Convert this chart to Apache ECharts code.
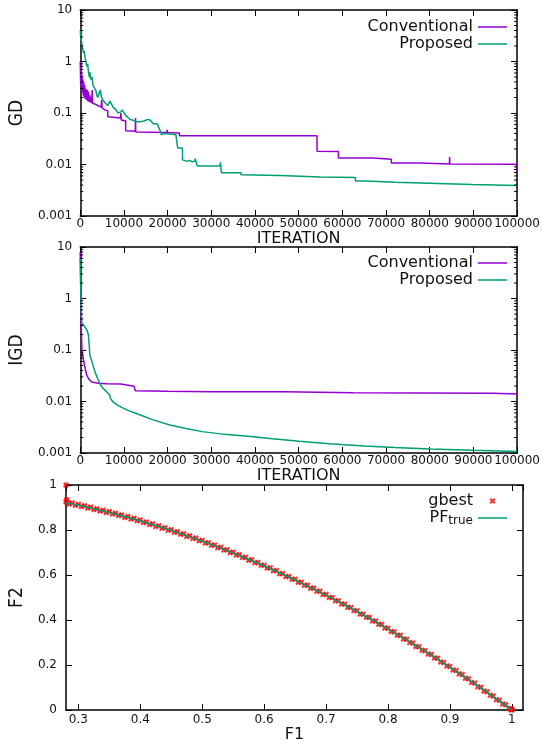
<!DOCTYPE html>
<html>
<head>
<meta charset="utf-8">
<script src="https://cdn.jsdelivr.net/npm/echarts@6/dist/echarts.min.js"></script>
<style>
html, body { margin: 0; padding: 0; background: #fff; }
#chart { width: 543px; height: 744px; }
</style>
</head>
<body>
<div id="chart"></div>
<script>
// values
const logTickLabels = ['0.001', '0.01', '0.1', '1', '10'];
const logMinorSteps = [2, 3, 4, 5, 6, 7, 8, 9];
const logDecades = [0.001, 0.01, 0.1, 1];

// GD vs iteration
const gdConventional = [
  [0, 1.0], [100, 0.35], [200, 0.8], [300, 0.3], [400, 0.55], [500, 0.25], [600, 0.45], [700, 0.22],
  [800, 0.4], [900, 0.2], [1000, 0.35], [1100, 0.19], [1300, 0.3], [1400, 0.18], [1600, 0.28],
  [1700, 0.17], [1900, 0.26], [2000, 0.165], [2200, 0.22], [2300, 0.16], [2500, 0.2], [2600, 0.155],
  [2750, 0.28], [2800, 0.155], [3300, 0.15], [4000, 0.14], [4800, 0.13], [4900, 0.18], [5000, 0.125],
  [5600, 0.115], [6300, 0.11], [6300, 0.085], [9200, 0.08], [9300, 0.1], [9400, 0.073], [10400, 0.07],
  [10400, 0.045], [12600, 0.044], [12650, 0.08], [12700, 0.043], [19800, 0.042], [19900, 0.047],
  [20000, 0.042], [22700, 0.041], [22700, 0.036], [46300, 0.036], [46400, 0.039], [46500, 0.036],
  [54200, 0.036], [54200, 0.018], [59100, 0.0178], [59100, 0.0134], [67000, 0.0134], [67000, 0.0127],
  [71200, 0.0127], [71200, 0.0107], [77700, 0.0107], [77700, 0.0102], [84500, 0.0102], [84550, 0.014],
  [84600, 0.0102], [99800, 0.0101], [100000, 0.0069]
];
const gdProposed = [
  [0, 4.0], [100, 3.0], [300, 2.4], [500, 1.9], [750, 1.45], [900, 1.6], [1100, 1.2], [1300, 1.0],
  [1500, 0.8], [1700, 0.9], [1900, 0.6], [2100, 0.5], [2200, 0.62], [2400, 0.45], [2700, 0.5],
  [2900, 0.35], [3100, 0.38], [3300, 0.3], [3600, 0.27], [3800, 0.22], [4000, 0.2], [4300, 0.24],
  [4600, 0.28], [4800, 0.21], [5200, 0.18], [5600, 0.16], [6000, 0.15], [6300, 0.14], [6800, 0.17],
  [7200, 0.18], [7500, 0.13], [8200, 0.115], [8600, 0.1], [9300, 0.105], [9600, 0.115], [10000, 0.11],
  [10400, 0.09], [10800, 0.085], [11400, 0.075], [11900, 0.073], [12800, 0.068], [13800, 0.068],
  [14600, 0.07], [15400, 0.075], [16000, 0.073], [16700, 0.062], [17600, 0.062], [17900, 0.059],
  [18300, 0.045], [18600, 0.038], [19500, 0.04], [20500, 0.039], [21900, 0.038], [22300, 0.037],
  [22300, 0.021], [23400, 0.021], [23400, 0.0123], [24500, 0.0115], [25000, 0.012], [25600, 0.0113],
  [26200, 0.0115], [26300, 0.013], [26600, 0.012], [26800, 0.0093], [32000, 0.0093], [32100, 0.011],
  [32300, 0.0069], [36800, 0.0069], [36800, 0.0063], [45700, 0.0061], [45700, 0.0058], [55000, 0.0057],
  [63000, 0.0056], [63000, 0.0048], [65400, 0.0048], [65400, 0.0045], [72100, 0.0045], [72100, 0.0042],
  [89700, 0.0041], [89700, 0.0039], [100000, 0.0039]
];

// IGD vs iteration
const igdConventional = [
  [0, 8], [60, 4], [120, 1.2], [200, 0.33], [380, 0.1], [740, 0.064], [1100, 0.045], [1500, 0.032],
  [2000, 0.027], [2600, 0.024], [4100, 0.0227], [6000, 0.022], [9300, 0.0218], [9300, 0.02],
  [12300, 0.0198], [12600, 0.0162], [20000, 0.0158], [30000, 0.0155], [46500, 0.0155], [46500, 0.0148],
  [62500, 0.0148], [62500, 0.0146], [94400, 0.0145], [94400, 0.0141], [100000, 0.014]
];
const igdProposed = [
  [0, 6], [100, 2], [200, 0.6], [380, 0.33], [800, 0.3], [1200, 0.27], [1500, 0.245], [1850, 0.2],
  [2000, 0.14], [2200, 0.08], [2800, 0.055], [3350, 0.038], [3900, 0.029], [4460, 0.0224], [5000, 0.019],
  [5600, 0.0168], [6200, 0.015], [6700, 0.0135], [6900, 0.0115], [7500, 0.0098], [8550, 0.0085],
  [9600, 0.0076], [10800, 0.0068], [13000, 0.0058], [16700, 0.0044], [20500, 0.0035], [24200, 0.003],
  [27900, 0.0026], [33000, 0.0023], [39000, 0.0021], [44000, 0.0019], [50200, 0.0017], [57000, 0.00152],
  [65100, 0.00137], [72000, 0.00128], [80000, 0.0012], [90000, 0.00113], [100000, 0.00107]
];

// F1-F2 front
const gbest = [
  [0.28, 1.0], [0.28, 0.926], [0.281, 0.935], [0.282, 0.925], [0.285, 0.916], [0.29, 0.920], [0.295, 0.910],
  [0.30, 0.914], [0.305, 0.904], [0.31, 0.908], [0.315, 0.898], [0.32, 0.902], [0.325, 0.891], [0.33, 0.895],
  [0.335, 0.885], [0.34, 0.888], [0.345, 0.878], [0.35, 0.882], [0.355, 0.871], [0.36, 0.874], [0.365, 0.864],
  [0.37, 0.867], [0.375, 0.856], [0.38, 0.860], [0.385, 0.849], [0.39, 0.852], [0.395, 0.841], [0.40, 0.844],
  [0.405, 0.833], [0.41, 0.836], [0.415, 0.825], [0.42, 0.828], [0.425, 0.816], [0.43, 0.819], [0.435, 0.808],
  [0.44, 0.810], [0.445, 0.799], [0.45, 0.801], [0.455, 0.790], [0.46, 0.792], [0.465, 0.781], [0.47, 0.783],
  [0.475, 0.771], [0.48, 0.774], [0.485, 0.762], [0.49, 0.764], [0.495, 0.752], [0.50, 0.754], [0.505, 0.742],
  [0.51, 0.744], [0.515, 0.732], [0.52, 0.734], [0.525, 0.721], [0.53, 0.723], [0.535, 0.711], [0.54, 0.712],
  [0.545, 0.700], [0.55, 0.701], [0.555, 0.689], [0.56, 0.690], [0.565, 0.678], [0.57, 0.679], [0.575, 0.666],
  [0.58, 0.668], [0.585, 0.655], [0.59, 0.656], [0.595, 0.643], [0.60, 0.644], [0.605, 0.631], [0.61, 0.632],
  [0.615, 0.619], [0.62, 0.620], [0.625, 0.606], [0.63, 0.607], [0.635, 0.594], [0.64, 0.594], [0.645, 0.581],
  [0.65, 0.581], [0.655, 0.568], [0.66, 0.568], [0.665, 0.555], [0.67, 0.555], [0.675, 0.541], [0.68, 0.542],
  [0.685, 0.528], [0.69, 0.528], [0.695, 0.514], [0.70, 0.514], [0.705, 0.500], [0.71, 0.500], [0.715, 0.486],
  [0.72, 0.486], [0.725, 0.471], [0.73, 0.471], [0.735, 0.457], [0.74, 0.456], [0.745, 0.442], [0.75, 0.441],
  [0.755, 0.427], [0.76, 0.426], [0.765, 0.412], [0.77, 0.411], [0.775, 0.396], [0.78, 0.396], [0.785, 0.381],
  [0.79, 0.380], [0.795, 0.365], [0.80, 0.364], [0.805, 0.349], [0.81, 0.348], [0.815, 0.333], [0.82, 0.332],
  [0.825, 0.316], [0.83, 0.315], [0.835, 0.300], [0.84, 0.298], [0.845, 0.283], [0.85, 0.281], [0.855, 0.266],
  [0.86, 0.264], [0.865, 0.249], [0.87, 0.247], [0.875, 0.231], [0.88, 0.230], [0.885, 0.214], [0.89, 0.212],
  [0.895, 0.196], [0.90, 0.194], [0.905, 0.178], [0.91, 0.176], [0.915, 0.160], [0.92, 0.158], [0.925, 0.141],
  [0.93, 0.139], [0.935, 0.123], [0.94, 0.120], [0.945, 0.104], [0.95, 0.101], [0.955, 0.085], [0.96, 0.082],
  [0.965, 0.066], [0.97, 0.063], [0.975, 0.046], [0.98, 0.044], [0.985, 0.027], [0.99, 0.024], [0.995, 0.007],
  [0.998, 0.006], [0.999, 0.001], [1.0, 0.004], [1.0, 0.0]
];
const pfTrue = [
  [0.28, 0.9216], [0.30, 0.91], [0.32, 0.8976], [0.34, 0.8844], [0.36, 0.8704], [0.38, 0.8556], [0.40, 0.84],
  [0.42, 0.8236], [0.44, 0.8064], [0.46, 0.7884], [0.48, 0.7696], [0.50, 0.75], [0.52, 0.7296], [0.54, 0.7084],
  [0.56, 0.6864], [0.58, 0.6636], [0.60, 0.64], [0.62, 0.6156], [0.64, 0.5904], [0.66, 0.5644], [0.68, 0.5376],
  [0.70, 0.51], [0.72, 0.4816], [0.74, 0.4524], [0.76, 0.4224], [0.78, 0.3916], [0.80, 0.36], [0.82, 0.3276],
  [0.84, 0.2944], [0.86, 0.2604], [0.88, 0.2256], [0.90, 0.19], [0.92, 0.1536], [0.94, 0.1164], [0.96, 0.0784],
  [0.98, 0.0396], [1.0, 0]
];

const purple = '#9400d3';
const green = '#009e73';
const font = 'DejaVu Sans';
const narrow = '"Liberation Sans Narrow", "DejaVu Sans Condensed", "Liberation Sans", sans-serif';
const xMark = 'path://M0,2.5L2.5,0L5,2.5L7.5,0L10,2.5L7.5,5L10,7.5L7.5,10L5,7.5L2.5,10L0,7.5L2.5,5Z';
const lineIcon = 'path://M0,0H29V1.5H0Z';

const minorTicks = [];
logDecades.forEach(d => logMinorSteps.forEach(s => minorTicks.push([0, d * s])));

const chart = echarts.init(document.getElementById('chart'), null, { renderer: 'canvas' });

const grids = [
  { left: 75, top: 10, width: 448, height: 206 },
  { left: 75, top: 247, width: 448, height: 206 },
  { left: 62, top: 485, width: 461, height: 233 }
];

const axisLine = { show: true, onZero: false, lineStyle: { color: '#000', width: 1.5 } };
const tick = { show: true, inside: true, length: 6, lineStyle: { color: '#000', width: 1 } };
const label = { color: '#111', fontFamily: font, fontSize: 12 };

function iterAxis(gi, name) {
  return [
    {
      gridIndex: gi, type: 'value', min: 0, max: 100000, interval: 10000, position: 'bottom',
      name: name, nameLocation: 'middle', nameGap: 9,
      nameTextStyle: { fontFamily: font, fontSize: 16, color: '#111' },
      axisLine, axisTick: tick, splitLine: { show: false },
      axisLabel: Object.assign({ margin: 2, formatter: v => String(v) }, label)
    },
    {
      gridIndex: gi, type: 'value', min: 0, max: 100000, interval: 10000, position: 'top',
      axisLine, axisTick: tick, axisLabel: { show: false }, splitLine: { show: false }
    }
  ];
}
function logAxis(gi, name) {
  return [
    {
      gridIndex: gi, type: 'log', logBase: 10, min: 0.001, max: 10, position: 'left',
      name: name, nameLocation: 'middle', nameRotate: 90, nameGap: 48,
      nameTextStyle: { fontFamily: narrow, fontSize: 19, color: '#111' },
      axisLine, axisTick: tick, splitLine: { show: false },
      axisLabel: Object.assign({
        margin: 8,
        formatter: v => logTickLabels[Math.round(Math.log10(v)) + 3]
      }, label)
    },
    {
      gridIndex: gi, type: 'log', logBase: 10, min: 0.001, max: 10, position: 'right',
      axisLine, axisTick: tick, axisLabel: { show: false }, splitLine: { show: false }
    }
  ];
}

function minorTickItem(params, api) {
  const cs = params.coordSys;
  const y = api.coord([0, api.value(1)])[1];
  const len = 3;
  const st = { stroke: '#000', lineWidth: 1 };
  return {
    type: 'group',
    children: [
      { type: 'line', shape: { x1: cs.x, y1: y, x2: cs.x + len, y2: y }, style: st },
      { type: 'line', shape: { x1: cs.x + cs.width - len, y1: y, x2: cs.x + cs.width, y2: y }, style: st }
    ]
  };
}
function minorSeries(xi, yi) {
  return {
    type: 'custom', xAxisIndex: xi, yAxisIndex: yi, silent: true, clip: false,
    data: minorTicks, encode: { x: 0, y: 1 }, renderItem: minorTickItem, z: 5
  };
}
function lineSeries(name, data, color, xi, yi) {
  return {
    name, type: 'line', data, xAxisIndex: xi, yAxisIndex: yi, symbol: 'none', showSymbol: false,
    lineStyle: { color, width: 1.5 }, itemStyle: { color }, animation: false
  };
}

const legendText = { fontFamily: font, fontSize: 16, color: '#111' };
const lineLegendData = [{ name: 'Conventional', icon: lineIcon }, { name: 'Proposed', icon: lineIcon }];

const option = {
  animation: false,
  backgroundColor: '#fff',
  grid: grids,
  legend: [
    {
      data: lineLegendData, orient: 'vertical', align: 'right', right: 31, top: 14,
      itemWidth: 29, itemHeight: 14, itemGap: 1, textStyle: legendText, selectedMode: false
    },
    {
      data: lineLegendData, orient: 'vertical', align: 'right', right: 31, top: 250,
      itemWidth: 29, itemHeight: 14, itemGap: 1, textStyle: legendText, selectedMode: false
    },
    {
      data: [{ name: 'gbest', icon: xMark }, { name: 'PF_true', icon: lineIcon }], orient: 'vertical',
      align: 'right', right: 31, top: 488, itemWidth: 29, itemHeight: 6, itemGap: 1, selectedMode: false,
      textStyle: Object.assign({
        rich: {
          a: { fontFamily: font, fontSize: 16, color: '#111' },
          b: { fontFamily: font, fontSize: 12, color: '#111', padding: [6, 0, 0, 0], verticalAlign: 'bottom' }
        }
      }, legendText),
      formatter: n => (n === 'PF_true' ? '{a|PF}{b|true}' : n)
    }
  ],
  xAxis: [
    ...iterAxis(0, 'ITERATION'),
    ...iterAxis(1, 'ITERATION'),
    {
      gridIndex: 2, type: 'value', min: 0.28, max: 1.018, splitNumber: 7, position: 'bottom',
      name: 'F1', nameLocation: 'middle', nameGap: 11,
      nameTextStyle: { fontFamily: font, fontSize: 16, color: '#111' },
      axisLine, axisTick: tick, splitLine: { show: false },
      axisLabel: Object.assign({ margin: 4, showMinLabel: false, showMaxLabel: false }, label)
    },
    {
      gridIndex: 2, type: 'value', min: 0.28, max: 1.018, splitNumber: 7, position: 'top',
      axisLine, axisTick: tick, axisLabel: { show: false }, splitLine: { show: false }
    }
  ],
  yAxis: [
    ...logAxis(0, 'GD'),
    ...logAxis(1, 'IGD'),
    {
      gridIndex: 2, type: 'value', min: 0, max: 1, interval: 0.2, position: 'left',
      name: 'F2', nameLocation: 'middle', nameRotate: 90, nameGap: 35,
      nameTextStyle: { fontFamily: narrow, fontSize: 19, color: '#111' },
      axisLine, axisTick: tick, splitLine: { show: false },
      axisLabel: Object.assign({ margin: 9 }, label)
    },
    {
      gridIndex: 2, type: 'value', min: 0, max: 1, interval: 0.2, position: 'right',
      axisLine, axisTick: tick, axisLabel: { show: false }, splitLine: { show: false }
    }
  ],
  series: [
    lineSeries('Conventional', gdConventional, purple, 0, 0),
    lineSeries('Proposed', gdProposed, green, 0, 0),
    minorSeries(0, 0),
    lineSeries('Conventional', igdConventional, purple, 2, 2),
    lineSeries('Proposed', igdProposed, green, 2, 2),
    minorSeries(2, 2),
    {
      name: 'gbest', type: 'scatter', data: gbest, xAxisIndex: 4, yAxisIndex: 4,
      symbol: xMark, symbolSize: 6, itemStyle: { color: '#ff0000' }, z: 2
    },
    Object.assign(lineSeries('PF_true', pfTrue, green, 4, 4), { z: 3 })
  ]
};

chart.setOption(option);
</script>
</body>
</html>
